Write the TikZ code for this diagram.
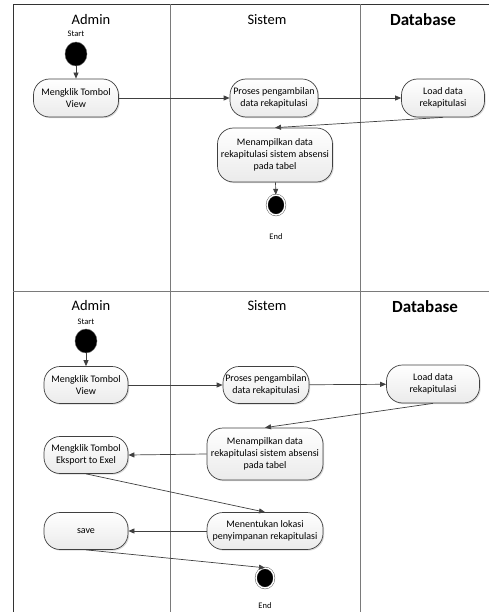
\documentclass[tikz,border=0pt]{standalone}
\usepackage{fontspec}
\setmainfont{Carlito}
\usetikzlibrary{arrows.meta,shadows,shapes.geometric}
\definecolor{linegray}{HTML}{404040}
\definecolor{lanegray}{HTML}{7A7A7A}
\begin{document}
\begin{tikzpicture}[x=1pt,y=-1pt,
  act/.style={draw=black!75, line width=0.7pt, rounded corners=16pt,
    top color=white, bottom color=black!8, minimum height=38pt,
    align=center, font=\fontsize{10}{12}\selectfont, inner sep=1pt,
    drop shadow={shadow xshift=1.2pt, shadow yshift=-1.2pt, opacity=0.3}},
  startnode/.style={ellipse, fill=black, draw=black!60, minimum width=22pt, minimum height=24pt, inner sep=0pt},
  endnode/.style={ellipse, fill=black, draw=black!75, double=white, double distance=1.4pt, minimum width=18pt, minimum height=20pt, inner sep=0pt},
  lbl/.style={font=\fontsize{8.5}{10}\selectfont, inner sep=0pt},
  lane/.style={font=\fontsize{14.5}{16}\selectfont, inner sep=0pt},
  laneb/.style={font=\fontsize{17}{19}\bfseries\selectfont, inner sep=0pt},
  flow/.style={draw=linegray, line width=0.7pt, -{Triangle[length=6pt,width=5pt]}},
  frame/.style={draw=black!80, line width=0.8pt},
  divider/.style={draw=lanegray, line width=0.8pt}
]
\useasboundingbox (0,0) rectangle (489,612);
% frame and lanes
\draw[frame] (13,612) -- (13,4) -- (489,4);
\draw[divider] (170,4) -- (170,612);
\draw[divider] (360,4) -- (360,612);
\draw[divider] (13,291) -- (489,291);

% ---------- top diagram ----------
\node[lane] (h1a) at (91,20) {Admin};
\node[lane] (h1s) at (267,20) {Sistem};
\node[laneb] (h1d) at (423,20) {Database};
\node[lbl] (st1l) at (76,34) {Start};
\node[startnode] (st1) at (76,54) {};
\node[act, minimum width=85pt] (v1) at (76,98) {Mengklik Tombol\\View};
\node[act, minimum width=88pt] (p1) at (274,98) {Proses pengambilan\\data rekapitulasi};
\node[act, minimum width=83pt] (l1) at (443,98) {Load data\\rekapitulasi};
\node[act, minimum width=115pt, minimum height=54pt] (m1) at (275,155) {Menampilkan data\\rekapitulasi sistem absensi\\pada tabel};
\node[endnode] (e1) at (276,205) {};
\node[lbl] (e1l) at (276,237) {End};
\draw[flow] (st1) -- (v1);
\draw[flow] (v1) -- (p1);
\draw[flow] (p1) -- (l1);
\draw[flow] (l1.south) -- (m1.north);
\draw[flow] (m1) -- (e1);

% ---------- bottom diagram ----------
\node[lane] (h2a) at (91,306) {Admin};
\node[lane] (h2s) at (267,306) {Sistem};
\node[laneb] (h2d) at (425,307) {Database};
\node[lbl] (st2l) at (86,322) {Start};
\node[startnode] (st2) at (86,341) {};
\node[act, minimum width=84pt, minimum height=37pt] (v2) at (86,385) {Mengklik Tombol\\View};
\node[act, minimum width=86pt, minimum height=37pt] (p2) at (266,385) {Proses pengambilan\\data rekapitulasi};
\node[act, minimum width=93pt, minimum height=38pt] (l2) at (433,384) {Load data\\rekapitulasi};
\node[act, minimum width=116pt, minimum height=52pt] (m2) at (265,454) {Menampilkan data\\rekapitulasi sistem absensi\\pada tabel};
\node[act, minimum width=84pt, minimum height=37pt] (x2) at (86,455) {Mengklik Tombol\\Eksport to Exel};
\node[act, minimum width=116pt, minimum height=37pt] (n2) at (265,531) {Menentukan lokasi\\penyimpanan rekapitulasi};
\node[act, minimum width=84pt, minimum height=37pt] (s2) at (86,531) {save};
\node[endnode] (e2) at (265,578) {};
\node[lbl] (e2l) at (265,606) {End};
\draw[flow] (st2) -- (v2);
\draw[flow] (v2) -- (p2);
\draw[flow] (p2) -- (l2);
\draw[flow] (l2.south) -- (m2.north);
\draw[flow] (m2.west) -- (x2.east);
\draw[flow] (x2.south) -- (n2.north);
\draw[flow] (n2.west) -- (s2.east);
\draw[flow] (s2.south) -- (e2.north);
\end{tikzpicture}
\end{document}
